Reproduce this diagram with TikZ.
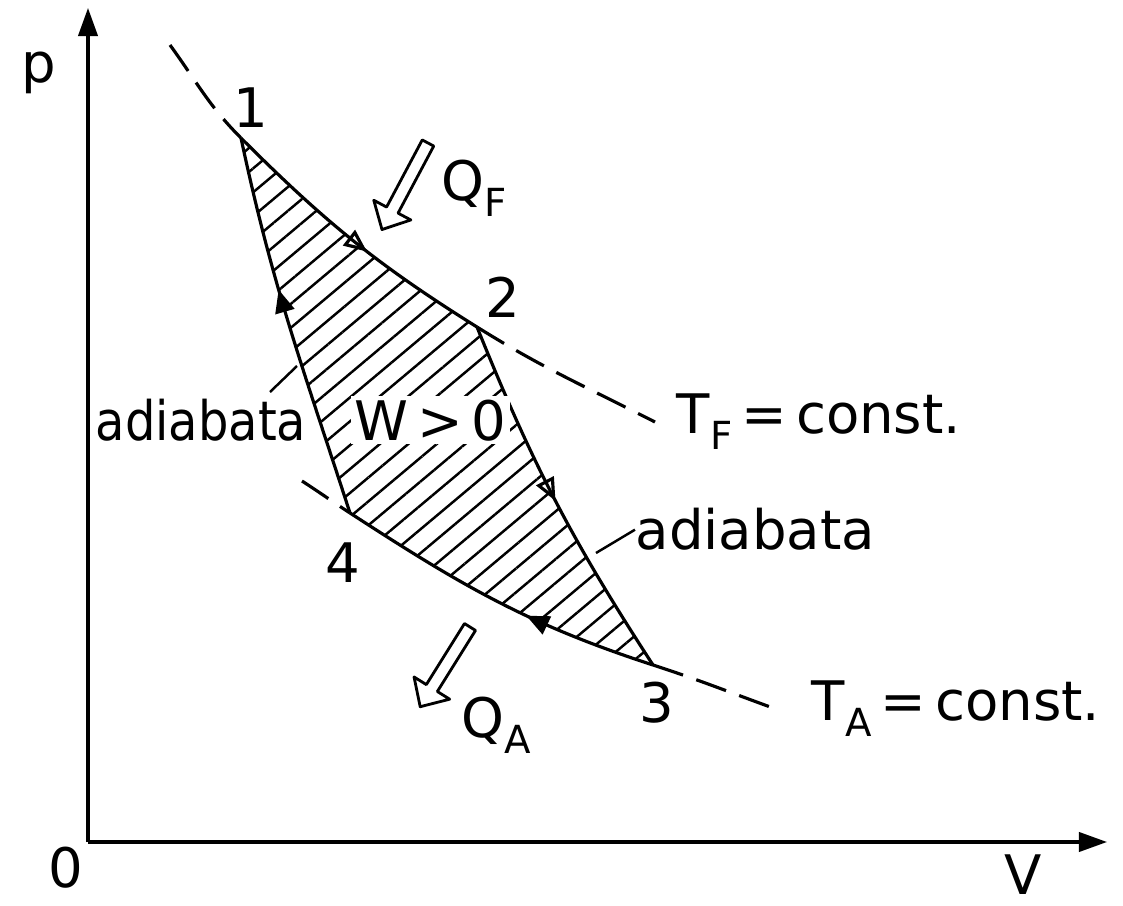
\documentclass[tikz,border=0pt]{standalone}
\usepackage{fontspec}
\setmainfont{DejaVu Sans}
\usepackage{tikz}
\usetikzlibrary{arrows.meta,patterns.meta,decorations.markings}

\newcommand{\lowidx}[1]{\raisebox{-0.55ex}{\fontsize{11}{11}\selectfont #1}}
% hollow heat arrow of length #1 (pixels), drawn along +x
\newcommand{\heatarrow}[1]{(0,-6.5) -- ({#1-22},-6.5) -- ({#1-22},-21) -- (#1,0) -- ({#1-22},21) -- ({#1-22},6.5) -- (0,6.5) -- cycle}

\begin{document}
\begin{tikzpicture}[
  x=0.01cm, y=-0.01cm,
  font=\fontsize{15.5}{18}\selectfont,
  curve/.style={line width=0.9pt},
  iso/.style={line width=0.9pt, dash pattern=on 9pt off 4pt},
  axis/.style={line width=0.9pt, -{Triangle[length=8pt, width=5.5pt]}},
  midarr/.style={postaction={decorate, decoration={markings,
      mark=at position #1 with {\arrow{Triangle[length=6.5pt, width=5.5pt]}}}}},
  midopen/.style={postaction={decorate, decoration={markings,
      mark=at position #1 with {\arrow{Triangle[open, length=6.5pt, width=5.5pt, line width=0.9pt]}}}}},
  heat/.style={line width=0.8pt, line join=round, fill=white},
  lbl/.style={inner sep=0pt}]
\useasboundingbox (0,0) rectangle (1123,906);
% axes
\coordinate (O) at (88,842);
\coordinate (ptop) at (88,8);
\coordinate (vend) at (1107,842);
\draw[axis] (O) -- (ptop);
\draw[axis] (O) -- (vend);
\node[lbl, anchor=base] (plab) at (39,83) {p};
\node[lbl] (zero) at (66,868) {0};
\node[lbl] (vlab) at (1023,875) {V};
% cycle corners
\coordinate (p1) at (241,138);
\coordinate (p2) at (477,327);
\coordinate (p3) at (653,665);
\coordinate (p4) at (350,513);
\coordinate (tfa) at (170,45);
\coordinate (tfb) at (655,422);
\coordinate (taa) at (302,481);
\coordinate (tab) at (773,708);
% hatched work area
\path[pattern={Lines[angle=40, distance=5.2pt, line width=0.7pt]}]
  (p1) to[out=-45, in=148] (p2) to[out=-68, in=123] (p3)
  to[out=162, in=-33] (p4) to[out=108, in=-78] (p1) -- cycle;
% isotherms
\draw[iso] (tfa) to[out=-54, in=135] (p1);
\draw[iso] (p2) to[out=-32, in=153] (tfb);
\draw[iso] (taa) to[out=-33, in=147] (p4);
\draw[iso] (p3) to[out=-18, in=160] (tab);
% the cycle
\draw[curve, midopen=0.56] (p1) to[out=-45, in=148] (p2);
\draw[curve, midopen=0.5] (p2) to[out=-68, in=123] (p3);
\draw[curve, midarr=0.4] (p3) to[out=162, in=-33] (p4);
\draw[curve, midarr=0.6] (p4) to[out=108, in=-78] (p1);
\node[lbl] (n1) at (251,108) {1};
\node[lbl] (n2) at (503,297) {2};
\node[lbl] (n3) at (657,703) {3};
\node[lbl] (n4) at (343,563) {4};
\node[lbl, anchor=base west, fill=white, inner sep=1pt] (work) at (350,440) {W\,>\,0};
% heat flows
\draw[heat, shift={(428,143)}, rotate=242] \heatarrow{98};
\node[lbl, anchor=base west] (qflab) at (441,200) {Q\lowidx{F}};
\draw[heat, shift={(470,627)}, rotate=238] \heatarrow{94};
\node[lbl, anchor=base west] (qalab) at (461,737) {Q\lowidx{A}};
% labels
\node[lbl, anchor=base west] (tf) at (676,433) {T\lowidx{F}\,=\,const.};
\node[lbl, anchor=base west] (ta) at (811,720) {T\lowidx{A}\,=\,const.};
\node[lbl, anchor=base west] (adr) at (635,550) {adiabata};
\node[lbl, anchor=base west, xscale=0.88] (adl) at (95,440) {adiabata};
\coordinate (adrtip) at (596,553);
\coordinate (adltip) at (297,366);
\draw[line width=0.7pt] (adr.west) -- (adrtip);
\draw[line width=0.7pt] (270,392) -- (adltip);
\end{tikzpicture}
\end{document}
